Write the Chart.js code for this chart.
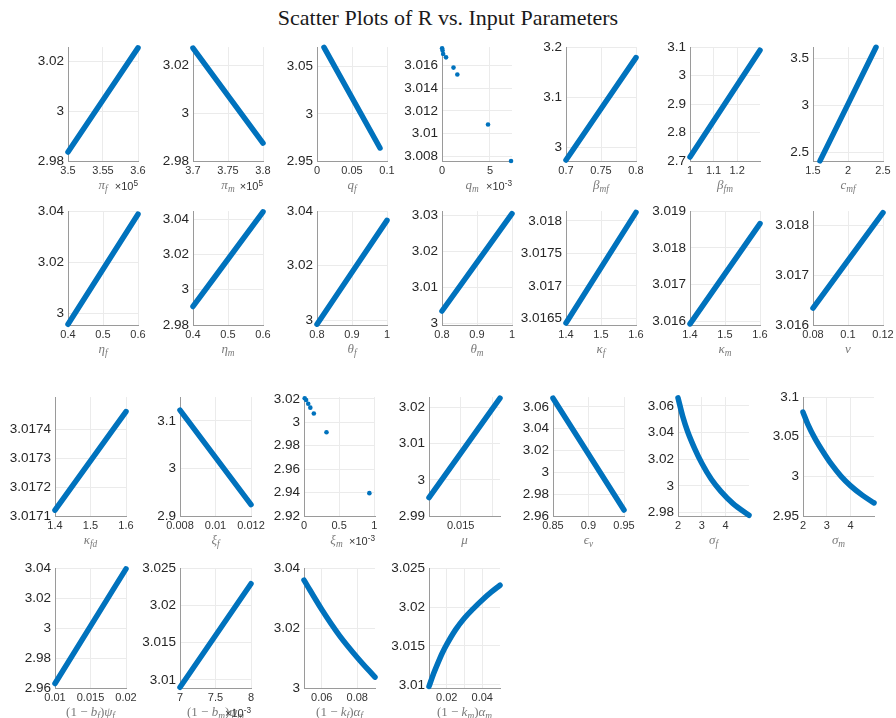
<!DOCTYPE html>
<html>
<head>
<meta charset="utf-8">
<script src="https://cdn.jsdelivr.net/npm/chart.js@4.4.1/dist/chart.umd.min.js"></script>
<style>
  html, body { margin: 0; padding: 0; background: #fff; }
  #fig { position: relative; width: 896px; height: 718px; overflow: hidden; }
  #fig canvas { position: absolute; }
  .ttl { position: absolute; left: 0; width: 896px; top: 5px; text-align: center;
         font: 22px "Liberation Serif", serif; color: #1a1a1a; }
  .xl { position: absolute; transform: translate(-50%, -50%); white-space: nowrap;
        font: 13px "Liberation Serif", serif; color: #7a7a7a; }
  .ex { position: absolute; transform: translate(-100%, -50%); white-space: nowrap;
        font: 11px "Liberation Sans", Arial, sans-serif; color: #333; }
  sub { font-size: 72%; vertical-align: -0.3em; line-height: 0; }
  sup { font-size: 75%; vertical-align: 0.5em; line-height: 0; }
</style>
</head>
<body>
<div id="fig">
  <div class="ttl">Scatter Plots of R vs. Input Parameters</div>
</div>
<script>
// ---- R against each input parameter ----
const x_piF = [3.5, 3.6];            const R_piF = [2.9836, 3.0255];
const x_piM = [3.7, 3.8];            const R_piM = [3.0274, 2.9875];
const x_qF = [0.01, 0.09];           const R_qF = [3.0705, 2.9638];
const x_qM = [0.01, 0.06, 0.12, 0.42, 1.2, 1.6, 4.8, 7.2];
const R_qM = [3.0175, 3.0173, 3.0170, 3.0167, 3.0158, 3.0152, 3.0108, 3.0076];
const x_bMF = [0.7, 0.8];            const R_bMF = [2.975, 3.179];
const x_bFM = [1.0, 1.297];          const R_bFM = [2.714, 3.089];
const x_cMF = [1.6, 2.4];            const R_cMF = [2.41, 3.62];

const x_etaF = [0.4, 0.6];           const R_etaF = [2.9958, 3.0388];
const x_etaM = [0.4, 0.6];           const R_etaM = [2.9905, 3.0442];
const x_thF = [0.8, 1.0];            const R_thF = [2.9985, 3.0366];
const x_thM = [0.8, 1.0];            const R_thM = [3.0034, 3.0305];
const x_kapF = [1.4, 1.6];           const R_kapF = [3.01643, 3.01813];
const x_kapM = [1.4, 1.6];           const R_kapM = [3.01593, 3.01866];
const x_nu = [0.08, 0.12];           const R_nu = [3.01634, 3.01825];

const x_kapFD = [1.4, 1.6];          const R_kapFD = [3.01712, 3.01746];
const x_xiF = [0.008, 0.012];        const R_xiF = [3.1226, 2.924];
const x_xiM = [0.01, 0.03, 0.06, 0.09, 0.14, 0.32, 0.93];
const R_xiM = [3.0205, 3.019, 3.0158, 3.0125, 3.0075, 2.9915, 2.9395];
const x_mu = [0.01, 0.0212];         const R_mu = [2.9951, 3.0226];
const x_epsV = [0.85, 0.95];         const R_epsV = [3.068, 2.9655];
const x_sigF = [2.0, 2.2, 2.4, 2.7, 3.0, 3.4, 3.8, 4.3, 4.98];
const R_sigF = [3.066, 3.052, 3.041, 3.028, 3.017, 3.005, 2.996, 2.987, 2.978];
const x_sigM = [2.0, 2.2, 2.5, 2.8, 3.2, 3.6, 4.0, 4.5, 4.98];
const R_sigM = [3.081, 3.066, 3.048, 3.033, 3.015, 3.0, 2.988, 2.976, 2.9665];

const x_bPsiF = [0.01, 0.02];        const R_bPsiF = [2.963, 3.0395];
const x_bPsiM = [7.0, 8.0];          const R_bPsiM = [3.009, 3.0229];
const x_kAlF = [0.05, 0.06, 0.07, 0.08, 0.09];
const R_kAlF = [3.036, 3.0262, 3.0175, 3.0102, 3.0036];
const x_kAlM = [0.01, 0.0125, 0.015, 0.0175, 0.02, 0.025, 0.03, 0.035, 0.04, 0.045, 0.05];
const R_kAlM = [3.0098, 3.0114, 3.0128, 3.0141, 3.0152, 3.0171, 3.0186, 3.0198, 3.0209, 3.0219, 3.0228];

// ---- axis limits ----
const xl_piF = [3.5, 3.6];     const yl_piF = [2.98, 3.0258];
const xl_piM = [3.7, 3.8];     const yl_piM = [2.98, 3.0278];
const xl_qF = [0, 0.1];        const yl_qF = [2.95, 3.0708];
const xl_qM = [0, 7.3];        const yl_qM = [3.0076, 3.0176];
const xl_bMF = [0.7, 0.8];     const yl_bMF = [2.973, 3.2];
const xl_bFM = [1.0, 1.297];   const yl_bFM = [2.7, 3.1];
const xl_cMF = [1.5, 2.5];     const yl_cMF = [2.409, 3.622];
const xl_etaF = [0.4, 0.6];    const yl_etaF = [2.9955, 3.04];
const xl_etaM = [0.4, 0.6];    const yl_etaM = [2.98, 3.0446];
const xl_thF = [0.8, 1.0];     const yl_thF = [2.9982, 3.04];
const xl_thM = [0.8, 1.0];     const yl_thM = [2.9995, 3.0312];
const xl_kapF = [1.4, 1.6];    const yl_kapF = [3.0164, 3.01815];
const xl_kapM = [1.4, 1.6];    const yl_kapM = [3.0159, 3.019];
const xl_nu = [0.08, 0.12];    const yl_nu = [3.016, 3.01828];
const xl_kapFD = [1.4, 1.6];   const yl_kapFD = [3.0171, 3.01751];
const xl_xiF = [0.008, 0.012]; const yl_xiF = [2.9, 3.15];
const xl_xiM = [0, 1.01];      const yl_xiM = [2.92, 3.0215];
const xl_mu = [0.01, 0.0212];  const yl_mu = [2.99, 3.0229];
const xl_epsV = [0.85, 0.95];  const yl_epsV = [2.96, 3.069];
const xl_sigF = [2, 4.98];     const yl_sigF = [2.9775, 3.0666];
const xl_sigM = [2, 4.98];     const yl_sigM = [2.95, 3.1];
const xl_bPsiF = [0.01, 0.02]; const yl_bPsiF = [2.96, 3.04];
const xl_bPsiM = [7, 8];       const yl_bPsiM = [3.0089, 3.025];
const xl_kAlF = [0.05, 0.09];  const yl_kAlF = [3.0, 3.04];
const xl_kAlM = [0.01, 0.05];  const yl_kAlM = [3.0096, 3.025];

// ---- tick values ----
const xt_piF = [3.5, 3.55, 3.6];        const yt_piF = [2.98, 3, 3.02];
const xt_piM = [3.7, 3.75, 3.8];        const yt_piM = [2.98, 3, 3.02];
const xt_qF = [0, 0.05, 0.1];           const yt_qF = [2.95, 3, 3.05];
const xt_qM = [0, 5];                   const yt_qM = [3.008, 3.01, 3.012, 3.014, 3.016];
const xt_bMF = [0.7, 0.75, 0.8];        const yt_bMF = [3, 3.1, 3.2];
const xt_bFM = [1, 1.1, 1.2];           const yt_bFM = [2.7, 2.8, 2.9, 3, 3.1];
const xt_cMF = [1.5, 2, 2.5];           const yt_cMF = [2.5, 3, 3.5];
const xt_etaF = [0.4, 0.5, 0.6];        const yt_etaF = [3, 3.02, 3.04];
const xt_etaM = [0.4, 0.5, 0.6];        const yt_etaM = [2.98, 3, 3.02, 3.04];
const xt_thF = [0.8, 0.9, 1];           const yt_thF = [3, 3.02, 3.04];
const xt_thM = [0.8, 0.9, 1];           const yt_thM = [3, 3.01, 3.02, 3.03];
const xt_kapF = [1.4, 1.5, 1.6];        const yt_kapF = [3.0165, 3.017, 3.0175, 3.018];
const xt_kapM = [1.4, 1.5, 1.6];        const yt_kapM = [3.016, 3.017, 3.018, 3.019];
const xt_nu = [0.08, 0.1, 0.12];        const yt_nu = [3.016, 3.017, 3.018];
const xt_kapFD = [1.4, 1.5, 1.6];       const yt_kapFD = [3.0171, 3.0172, 3.0173, 3.0174];
const xt_xiF = [0.008, 0.01, 0.012];    const yt_xiF = [2.9, 3, 3.1];
const xt_xiM = [0, 0.5, 1];             const yt_xiM = [2.92, 2.94, 2.96, 2.98, 3, 3.02];
const xt_mu = [0.01, 0.015, 0.02];      const yt_mu = [2.99, 3, 3.01, 3.02];
const xt_epsV = [0.85, 0.9, 0.95];      const yt_epsV = [2.96, 2.98, 3, 3.02, 3.04, 3.06];
const xt_sigF = [2, 3, 4];              const yt_sigF = [2.98, 3, 3.02, 3.04, 3.06];
const xt_sigM = [2, 3, 4];              const yt_sigM = [2.95, 3, 3.05, 3.1];
const xt_bPsiF = [0.01, 0.015, 0.02];   const yt_bPsiF = [2.96, 2.98, 3, 3.02, 3.04];
const xt_bPsiM = [7, 7.5, 8];           const yt_bPsiM = [3.01, 3.015, 3.02, 3.025];
const xt_kAlF = [0.06, 0.08];           const yt_kAlF = [3, 3.02, 3.04];
const xt_kAlM = [0.02, 0.03, 0.04];     const yt_kAlM = [3.01, 3.015, 3.02, 3.025];

// gridlines that carry no tick label
const xtUnlabelled_mu = [0.01, 0.02];
const xtUnlabelled_kAlM = [0.03];

// ---- axis titles ----
const sb = s => '<sub><i>' + s + '</i></sub>';
const LBL = {
  piF: '<i>π</i>' + sb('f'), piM: '<i>π</i>' + sb('m'),
  qF: '<i>q</i>' + sb('f'), qM: '<i>q</i>' + sb('m'),
  bMF: '<i>β</i>' + sb('mf'), bFM: '<i>β</i>' + sb('fm'), cMF: '<i>c</i>' + sb('mf'),
  etaF: '<i>η</i>' + sb('f'), etaM: '<i>η</i>' + sb('m'),
  thF: '<i>θ</i>' + sb('f'), thM: '<i>θ</i>' + sb('m'),
  kapF: '<i>κ</i>' + sb('f'), kapM: '<i>κ</i>' + sb('m'), nu: '<i>ν</i>',
  kapFD: '<i>κ</i>' + sb('fd'), xiF: '<i>ξ</i>' + sb('f'), xiM: '<i>ξ</i>' + sb('m'),
  mu: '<i>μ</i>', epsV: '<i>ϵ</i>' + sb('v'),
  sigF: '<i>σ</i>' + sb('f'), sigM: '<i>σ</i>' + sb('m'),
  bPsiF: '(1 − <i>b</i>' + sb('f') + ')<i>ψ</i>' + sb('f'),
  bPsiM: '(1 − <i>b</i>' + sb('m') + ')<i>ψ</i>' + sb('m'),
  kAlF: '(1 − <i>k</i>' + sb('f') + ')<i>α</i>' + sb('f'),
  kAlM: '(1 − <i>k</i>' + sb('m') + ')<i>α</i>' + sb('m')
};

// ---- panel list (row, column) ----
const panels = [
  { r: 0, c: 0, lbl: LBL.piF, x: x_piF, R: R_piF, xl: xl_piF, yl: yl_piF, xt: xt_piF, yt: yt_piF, exp: '5' },
  { r: 0, c: 1, lbl: LBL.piM, x: x_piM, R: R_piM, xl: xl_piM, yl: yl_piM, xt: xt_piM, yt: yt_piM, exp: '5' },
  { r: 0, c: 2, lbl: LBL.qF, x: x_qF, R: R_qF, xl: xl_qF, yl: yl_qF, xt: xt_qF, yt: yt_qF },
  { r: 0, c: 3, lbl: LBL.qM, x: x_qM, R: R_qM, xl: xl_qM, yl: yl_qM, xt: xt_qM, yt: yt_qM, exp: '-3', dots: true, dx: -5 },
  { r: 0, c: 4, lbl: LBL.bMF, x: x_bMF, R: R_bMF, xl: xl_bMF, yl: yl_bMF, xt: xt_bMF, yt: yt_bMF },
  { r: 0, c: 5, lbl: LBL.bFM, x: x_bFM, R: R_bFM, xl: xl_bFM, yl: yl_bFM, xt: xt_bFM, yt: yt_bFM },
  { r: 0, c: 6, lbl: LBL.cMF, x: x_cMF, R: R_cMF, xl: xl_cMF, yl: yl_cMF, xt: xt_cMF, yt: yt_cMF },
  { r: 1, c: 0, lbl: LBL.etaF, x: x_etaF, R: R_etaF, xl: xl_etaF, yl: yl_etaF, xt: xt_etaF, yt: yt_etaF },
  { r: 1, c: 1, lbl: LBL.etaM, x: x_etaM, R: R_etaM, xl: xl_etaM, yl: yl_etaM, xt: xt_etaM, yt: yt_etaM },
  { r: 1, c: 2, lbl: LBL.thF, x: x_thF, R: R_thF, xl: xl_thF, yl: yl_thF, xt: xt_thF, yt: yt_thF },
  { r: 1, c: 3, lbl: LBL.thM, x: x_thM, R: R_thM, xl: xl_thM, yl: yl_thM, xt: xt_thM, yt: yt_thM },
  { r: 1, c: 4, lbl: LBL.kapF, x: x_kapF, R: R_kapF, xl: xl_kapF, yl: yl_kapF, xt: xt_kapF, yt: yt_kapF },
  { r: 1, c: 5, lbl: LBL.kapM, x: x_kapM, R: R_kapM, xl: xl_kapM, yl: yl_kapM, xt: xt_kapM, yt: yt_kapM },
  { r: 1, c: 6, lbl: LBL.nu, x: x_nu, R: R_nu, xl: xl_nu, yl: yl_nu, xt: xt_nu, yt: yt_nu },
  { r: 2, c: 0, lbl: LBL.kapFD, x: x_kapFD, R: R_kapFD, xl: xl_kapFD, yl: yl_kapFD, xt: xt_kapFD, yt: yt_kapFD },
  { r: 2, c: 1, lbl: LBL.xiF, x: x_xiF, R: R_xiF, xl: xl_xiF, yl: yl_xiF, xt: xt_xiF, yt: yt_xiF },
  { r: 2, c: 2, lbl: LBL.xiM, x: x_xiM, R: R_xiM, xl: xl_xiM, yl: yl_xiM, xt: xt_xiM, yt: yt_xiM, exp: '-3', dots: true, dx: -3 },
  { r: 2, c: 3, lbl: LBL.mu, x: x_mu, R: R_mu, xl: xl_mu, yl: yl_mu, xt: xt_mu, yt: yt_mu, hide: xtUnlabelled_mu },
  { r: 2, c: 4, lbl: LBL.epsV, x: x_epsV, R: R_epsV, xl: xl_epsV, yl: yl_epsV, xt: xt_epsV, yt: yt_epsV },
  { r: 2, c: 5, lbl: LBL.sigF, x: x_sigF, R: R_sigF, xl: xl_sigF, yl: yl_sigF, xt: xt_sigF, yt: yt_sigF },
  { r: 2, c: 6, lbl: LBL.sigM, x: x_sigM, R: R_sigM, xl: xl_sigM, yl: yl_sigM, xt: xt_sigM, yt: yt_sigM },
  { r: 3, c: 0, lbl: LBL.bPsiF, x: x_bPsiF, R: R_bPsiF, xl: xl_bPsiF, yl: yl_bPsiF, xt: xt_bPsiF, yt: yt_bPsiF },
  { r: 3, c: 1, lbl: LBL.bPsiM, x: x_bPsiM, R: R_bPsiM, xl: xl_bPsiM, yl: yl_bPsiM, xt: xt_bPsiM, yt: yt_bPsiM, exp: '-3' },
  { r: 3, c: 2, lbl: LBL.kAlF, x: x_kAlF, R: R_kAlF, xl: xl_kAlF, yl: yl_kAlF, xt: xt_kAlF, yt: yt_kAlF },
  { r: 3, c: 3, lbl: LBL.kAlM, x: x_kAlM, R: R_kAlM, xl: xl_kAlM, yl: yl_kAlM, xt: xt_kAlM, yt: yt_kAlM, hide: xtUnlabelled_kAlM }
];

// ---- layout of the plot boxes ----
const ROW_TOP = [45, 209, 395, 566];
const ROW_BOT = [161, 325, 516, 688];
const COL_LEFT = [
  [68, 193, 317, 442, 566, 690, 813],
  [68, 193, 317, 442, 566, 690, 813],
  [55, 180, 304, 429, 553, 678, 803],
  [55, 180, 304, 429]
];
const COL_W = [70, 70, 71, 71];
const Y_AXIS_W = 62, X_AXIS_H = 22, PAD_T = 10, PAD_R = 20;
const BLUE = '#0072BD';
const TICK_FONT = '"Liberation Sans", Arial, Helvetica, sans-serif';

const fig = document.getElementById('fig');

panels.forEach(p => {
  const left = COL_LEFT[p.r][p.c], top = ROW_TOP[p.r];
  const w = COL_W[p.r], h = ROW_BOT[p.r] - top;

  const cv = document.createElement('canvas');
  cv.width = w + Y_AXIS_W + PAD_R;
  cv.height = h + PAD_T + X_AXIS_H;
  cv.style.left = (left - Y_AXIS_W) + 'px';
  cv.style.top = (top - PAD_T) + 'px';
  fig.appendChild(cv);

  new Chart(cv, {
    type: 'scatter',
    data: {
      datasets: [{
        data: p.x.map((v, i) => ({ x: v, y: p.R[i] })),
        showLine: !p.dots,
        borderColor: BLUE,
        backgroundColor: BLUE,
        borderWidth: p.dots ? 0 : 5.5,
        borderCapStyle: 'round',
        borderJoinStyle: 'round',
        cubicInterpolationMode: 'monotone',
        pointRadius: p.dots ? 2.3 : 0,
        pointHoverRadius: 0,
        clip: false
      }]
    },
    options: {
      responsive: false,
      animation: false,
      events: [],
      layout: { padding: { left: 0, top: PAD_T, right: PAD_R, bottom: 0 } },
      plugins: { legend: { display: false }, tooltip: { enabled: false } },
      scales: {
        x: {
          type: 'linear', min: p.xl[0], max: p.xl[1],
          afterBuildTicks: s => { s.ticks = p.xt.map(v => ({ value: v })); },
          afterFit: s => { s.height = X_AXIS_H; },
          ticks: {
            autoSkip: false, maxRotation: 0, minRotation: 0, padding: 3,
            color: '#333', font: { family: TICK_FONT, size: 11 },
            callback: v => (p.hide && p.hide.includes(v)) ? '' : String(v)
          },
          grid: { color: '#ebebeb', lineWidth: 1, drawTicks: false },
          border: { display: true, color: '#9a9a9a', width: 1 }
        },
        y: {
          type: 'linear', min: p.yl[0], max: p.yl[1],
          afterBuildTicks: s => { s.ticks = p.yt.map(v => ({ value: v })); },
          afterFit: s => { s.width = Y_AXIS_W; },
          ticks: {
            autoSkip: false, padding: 4,
            color: '#262626', font: { family: TICK_FONT, size: 13.5 },
            callback: v => String(v)
          },
          grid: { color: '#ebebeb', lineWidth: 1, drawTicks: false },
          border: { display: true, color: '#9a9a9a', width: 1 }
        }
      }
    }
  });

  // axis title under the plot
  const xl = document.createElement('div');
  xl.className = 'xl';
  xl.innerHTML = p.lbl;
  xl.style.left = (left + w / 2 + (p.dx || 0)) + 'px';
  xl.style.top = (ROW_BOT[p.r] + 24) + 'px';
  fig.appendChild(xl);

  // scale factor of the x values
  if (p.exp) {
    const ex = document.createElement('div');
    ex.className = 'ex';
    ex.innerHTML = '×10<sup>' + p.exp + '</sup>';
    ex.style.left = (left + w) + 'px';
    ex.style.top = (ROW_BOT[p.r] + 25) + 'px';
    fig.appendChild(ex);
  }
});
</script>
</body>
</html>
